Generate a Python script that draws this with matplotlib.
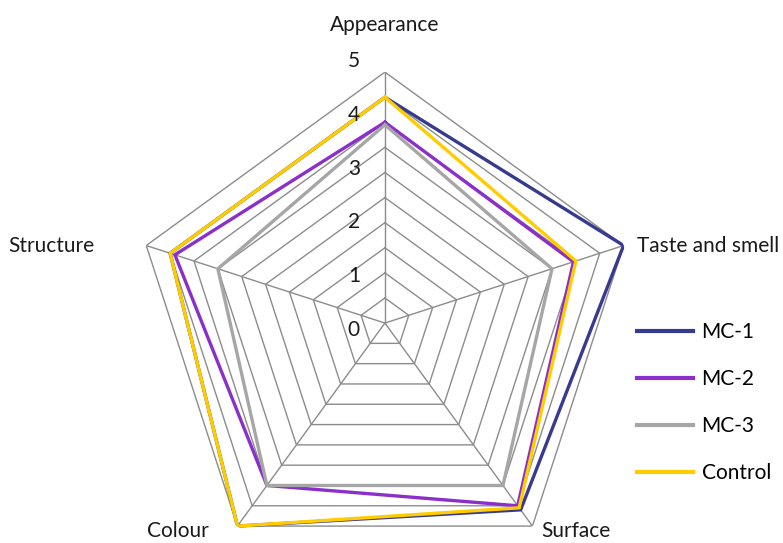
import numpy as np
import matplotlib.pyplot as plt

plt.rcParams['font.family'] = ['Lato', 'DejaVu Sans']

# ---- data ----
categories = ['Appearance', 'Taste and smell', 'Surface', 'Colour', 'Structure']
mc1 = [4.5, 5.0, 4.6, 5.0, 4.5]
mc2 = [4.0, 3.95, 4.5, 4.0, 4.4]
mc3 = [3.95, 3.5, 4.0, 4.0, 3.5]
control = [4.5, 4.0, 4.55, 5.0, 4.5]
series_names = ['MC-1', 'MC-2', 'MC-3', 'Control']
tick_values = [0, 1, 2, 3, 4, 5]
ring_values = np.arange(0.5, 5.01, 0.5)

# ---- style ----
colors = ['#363B8F', '#8B2FCB', '#A6A6A6', '#FFCC00']
grid_color = '#8C8C8C'
fs = 15
# label offsets (pixels) from the outer vertex of each spoke
cat_offsets = [(0, 47), (13, 0), (43, -5), (-60, -5), (-52, 0)]
cat_ha = ['center', 'left', 'center', 'center', 'right']

fig = plt.figure(figsize=(7.83, 5.43), dpi=100)
ax = fig.add_axes([0.1711, -0.0572, 0.641, 0.9245], projection='polar')
ax.set_theta_offset(np.pi / 2)
ax.set_theta_direction(-1)
ax.set_ylim(0, 5)
ax.axis('off')

angles = np.linspace(0, 2 * np.pi, len(categories), endpoint=False)
closed = np.append(angles, angles[0])

# pentagon grid
for r in ring_values:
    ax.plot(closed, [r] * len(closed), color=grid_color, lw=1, zorder=1)
for a in angles:
    ax.plot([a, a], [0, 5], color=grid_color, lw=1, zorder=1)

# series
for vals, name, c in zip([mc1, mc2, mc3, control], series_names, colors):
    ax.plot(closed, vals + [vals[0]], color=c, lw=2.4, label=name,
            zorder=3, solid_joinstyle='miter')

# category labels
for a, cat, off, ha in zip(angles, categories, cat_offsets, cat_ha):
    ax.annotate(cat, xy=(a, 5), xytext=off, textcoords='offset pixels',
                ha=ha, va='center', fontsize=fs, color='#1a1a1a',
                annotation_clip=False)

# value labels along the top spoke
for v in tick_values:
    ax.annotate(str(v), xy=(0, v), xytext=(-31, -(7 - 3.6 * v)),
                textcoords='offset pixels', ha='center', va='center',
                fontsize=fs, color='#1a1a1a')

leg = fig.legend(loc='upper left', bbox_to_anchor=(637 / 783, 1 - 322 / 543),
                 frameon=False, fontsize=fs, handlelength=2.7, handletextpad=0.4,
                 labelspacing=1.3, borderpad=0, borderaxespad=0)
for h in leg.get_lines():
    h.set_linewidth(3)

fig.savefig('out.png', dpi=100)
